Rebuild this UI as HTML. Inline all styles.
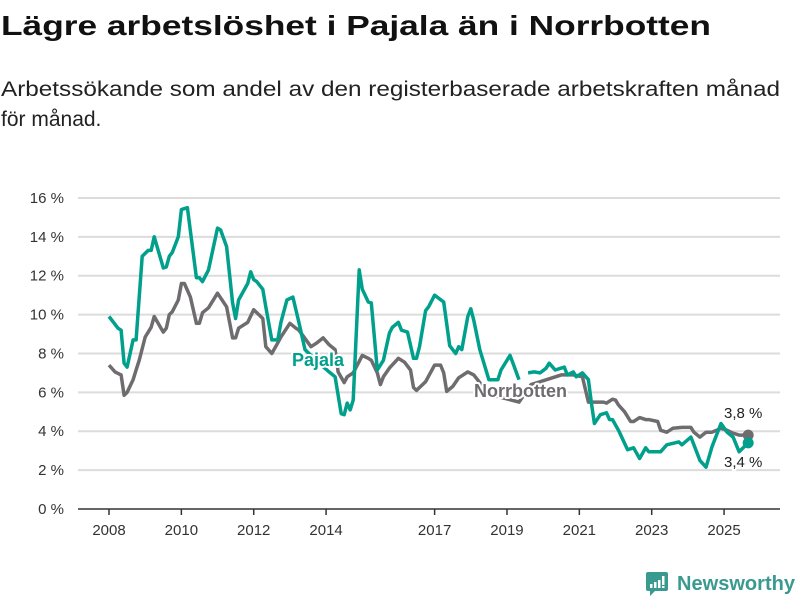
<!DOCTYPE html>
<html><head><meta charset="utf-8">
<style>
html,body{margin:0;padding:0;background:#fff;}
svg{display:block;font-family:"Liberation Sans",sans-serif;}
</style></head>
<body>
<svg id="chart" width="800" height="600" viewBox="0 0 800 600">
<text x="1" y="35" font-size="28" font-weight="bold" fill="#111" textLength="710" lengthAdjust="spacingAndGlyphs">Lägre arbetslöshet i Pajala än i Norrbotten</text>
<text x="1" y="96" font-size="21" fill="#222" textLength="779" lengthAdjust="spacingAndGlyphs">Arbetssökande som andel av den registerbaserade arbetskraften månad</text>
<text x="1" y="126" font-size="21" fill="#222">för månad.</text>
<g id="grid"></g>
<g id="axes"></g>
<g id="series"></g>
<g>
<rect x="646" y="572" width="22" height="19" rx="2" fill="#3a9a8f"/>
<polygon points="650,590 656,590 650,596" fill="#3a9a8f"/>
<rect x="650" y="584" width="2.5" height="4" fill="#fff"/><rect x="654" y="582" width="2.5" height="6" fill="#fff"/><rect x="658" y="580" width="2.5" height="8" fill="#fff"/><rect x="662" y="576" width="2.5" height="9" fill="#fff"/><rect x="662" y="586" width="2.5" height="2" fill="#fff"/>
<text x="677" y="590" font-size="20" font-weight="bold" fill="#3a9a8f" textLength="118" lengthAdjust="spacingAndGlyphs">Newsworthy</text>
</g>
</svg>
<script>
const yTicks = [0,2,4,6,8,10,12,14,16];
const xTickYears = [2008,2010,2012,2014,2017,2019,2021,2023,2025];
// months since Jan 2008
const pajalaMonths = [0,3,4,5,6,8,9,11,13,14,15,18,19,20,21,23,24,26,29,30,31,33,36,37,39,41,42,43,46,47,48,49,51,52,54,56,57,59,61,63,65,69,73,75,77,78,79,80,81,83,84,86,87,89,91,93,94,96,97,99,101,102,103,105,106,108,111,113,115,116,117,119,120,121,123,126,129,130,133,134,136,137,139,141,143,145,146,148,150,151,152,154,155,157,159,160,161,163,165,166,167,169,172,174,176,178,179,183,185,189,190,193,194,196,198,200,203,205,207,209,212];
const pajalaValues = [9.9,9.3,9.2,7.5,7.3,8.7,8.7,13.0,13.3,13.3,14.0,12.4,12.45,13.0,13.2,14.0,15.4,15.5,11.9,11.9,11.7,12.3,14.45,14.35,13.5,10.6,9.8,10.75,11.6,12.2,11.8,11.7,11.3,10.4,8.7,8.7,9.6,10.75,10.9,9.6,8.2,7.6,7.05,6.8,4.9,4.85,5.45,5.1,5.6,12.3,11.3,10.65,10.6,7.15,7.65,9.05,9.35,9.6,9.2,9.1,7.75,7.75,8.35,10.2,10.4,11.0,10.65,8.4,8.0,8.35,8.2,9.9,10.3,9.7,8.2,6.65,6.65,7.15,7.9,7.5,6.65,null,7.0,7.05,7.0,7.25,7.5,7.15,7.25,7.3,6.9,7.05,6.8,7.0,6.65,5.45,4.4,4.85,4.95,4.6,4.6,4.05,3.05,3.15,2.6,3.15,2.95,2.95,3.3,3.45,3.3,3.7,3.3,2.5,2.15,3.2,4.4,3.95,3.7,2.95,3.4];
const norrMonths = [0,2,4,5,6,8,9,10,12,14,15,18,19,20,21,23,24,25,27,29,30,31,33,36,39,41,42,43,46,48,51,52,54,56,57,60,62,63,67,69,71,73,75,76,78,79,81,84,86,87,89,90,91,93,96,98,100,101,102,105,108,110,111,112,114,116,119,121,126,131,136,140,146,150,154,157,159,160,164,165,167,168,169,171,173,174,176,178,179,182,183,185,187,190,193,194,196,198,200,203,205,207,209,212];
const norrValues = [7.4,7.05,6.9,5.85,6.0,6.65,7.15,7.65,8.85,9.35,9.9,9.1,9.3,10.0,10.15,10.75,11.6,11.6,10.9,9.55,9.55,10.1,10.35,11.1,10.4,8.8,8.8,9.3,9.6,10.25,9.8,8.35,8.0,8.55,8.85,9.55,9.3,9.2,8.35,8.55,8.8,8.45,8.2,7.05,6.5,6.8,7.0,7.9,7.75,7.65,7.0,6.4,6.8,7.25,7.75,7.55,7.15,6.25,6.1,6.55,7.4,7.4,7.0,6.05,6.3,6.75,7.05,6.9,5.9,5.7,5.5,6.4,6.7,6.9,6.9,6.8,5.5,5.5,5.5,5.45,5.65,5.6,5.35,5.0,4.5,4.5,4.7,4.6,4.6,4.5,4.05,3.95,4.15,4.2,4.2,3.95,3.7,3.95,3.95,4.15,4.05,3.9,3.8,3.8];
const NS='http://www.w3.org/2000/svg';
const x0=109, pxPerYear=36.18, y0=509, pxPerPct=19.44;
function xScale(m){return x0 + m/12*pxPerYear;}
function xYear(y){return x0 + (y-2008)*pxPerYear;}
function yScale(v){return y0 - v*pxPerPct;}
function mk(tag, attrs, parent){const e=document.createElementNS(NS,tag);for(const k in attrs)e.setAttribute(k,attrs[k]);parent.appendChild(e);return e;}
const grid=document.getElementById('grid'), axes=document.getElementById('axes'), series=document.getElementById('series');
yTicks.forEach(t=>{
  const l=mk('line',{x1:78,x2:780,y1:yScale(t),y2:yScale(t),stroke:t===0?'#333':'#dcdcdc','stroke-width':t===0?1.5:2},grid);
  
  
  const tx=mk('text',{x:64,y:yScale(t)+5,'text-anchor':'end','font-size':15,fill:'#333'},axes);
  
  
  tx.textContent=t+' %';
});
xTickYears.forEach(yr=>{
  const tk=mk('line',{x1:xYear(yr),x2:xYear(yr),y1:y0,y2:y0+6,stroke:'#333','stroke-width':1.5},axes);
  
  
  const tx=mk('text',{x:xYear(yr),y:535,'text-anchor':'middle','font-size':15,fill:'#333'},axes);
  
  
  tx.textContent=yr;
});
function pathFrom(ms, vs){
  let d='', pen=false;
  ms.forEach((m,i)=>{const v=vs[i]; if(v===null){pen=false;return;} d+=(pen?'L':'M')+xScale(m).toFixed(1)+','+yScale(v).toFixed(1); pen=true;});
  return d;
}
const gLine=mk('path',{d:pathFrom(norrMonths,norrValues),fill:'none',stroke:'#6f6c70','stroke-width':3.5,'stroke-linejoin':'round'},series);


const pLine=mk('path',{d:pathFrom(pajalaMonths,pajalaValues),fill:'none',stroke:'#00a08c','stroke-width':3.5,'stroke-linejoin':'round'},series);


const lastN=norrValues.length-1, lastP=pajalaValues.length-1;
const gDot=mk('circle',{cx:xScale(norrMonths[lastN]),cy:yScale(norrValues[lastN]),r:5.5,fill:'#6f6c70'},series);


const pDot=mk('circle',{cx:xScale(pajalaMonths[lastP]),cy:yScale(pajalaValues[lastP]),r:5.5,fill:'#00a08c'},series);


function label(txt,x,y,col,size,weight,name){
  const t=mk('text',{x:x,y:y,'font-size':size,'font-weight':weight,fill:col,stroke:'#fff','stroke-width':4,'paint-order':'stroke','stroke-linejoin':'round'},series);
  
  
  t.textContent=txt;
}
label('Pajala',292,366,'#00a08c',18,'bold','pajala-label');
label('Norrbotten',474,397,'#6f6c70',18,'bold','norrbotten-label');
label(String(norrValues[lastN]).replace('.',',')+' %',724,418,'#222',15,'normal','norrbotten-end-value');
label(String(pajalaValues[lastP]).replace('.',',')+' %',724,467,'#222',15,'normal','pajala-end-value');
</script>
</body></html>
